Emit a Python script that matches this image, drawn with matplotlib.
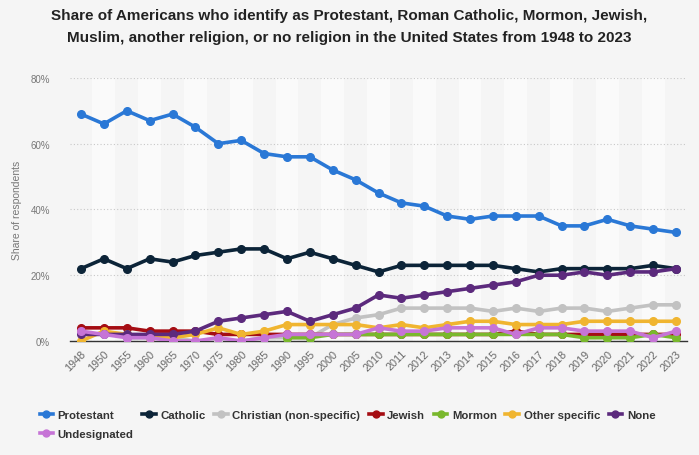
import numpy as np
import matplotlib
matplotlib.use("Agg")
import matplotlib.pyplot as plt
from matplotlib.lines import Line2D

plt.rcParams['font.family'] = ['Liberation Sans', 'DejaVu Sans']

years = ["1948", "1950", "1955", "1960", "1965", "1970", "1975", "1980", "1985", "1990",
         "1995", "2000", "2005", "2010", "2011", "2012", "2013", "2014", "2015", "2016",
         "2017", "2018", "2019", "2020", "2021", "2022", "2023"]

nan = np.nan
protestant = [69, 66, 70, 67, 69, 65, 60, 61, 57, 56, 56, 52, 49, 45, 42, 41, 38, 37, 38, 38, 38, 35, 35, 37, 35, 34, 33]
catholic = [22, 25, 22, 25, 24, 26, 27, 28, 28, 25, 27, 25, 23, 21, 23, 23, 23, 23, 23, 22, 21, 22, 22, 22, 22, 23, 22]
christian = [nan, nan, 1, 1, 1, 0, 0, 0, 1, 1, 1, 5, 7, 8, 10, 10, 10, 10, 9, 10, 9, 10, 10, 9, 10, 11, 11]
jewish = [4, 4, 4, 3, 3, 3, 2, 2, 2, 2, 2, 2, 2, 2, 2, 2, 2, 2, 2, 3, 2, 2, 2, 2, 2, 2, 2]
mormon = [nan, nan, nan, nan, nan, nan, nan, nan, nan, 1, 1, 2, 2, 2, 2, 2, 2, 2, 2, 2, 2, 2, 1, 1, 1, 2, 1]
other = [0, 3, 2, 1, 1, 2, 4, 2, 3, 5, 5, 5, 5, 4, 5, 4, 5, 6, 6, 5, 5, 5, 6, 6, 6, 6, 6]
none = [2, 2, 2, 2, 2, 3, 6, 7, 8, 9, 6, 8, 10, 14, 13, 14, 15, 16, 17, 18, 20, 20, 21, 20, 21, 21, 22]
undesignated = [3, 2, 1, 1, 0, 0, 1, 0, 1, 2, 2, 2, 2, 4, 3, 3, 4, 4, 4, 2, 4, 4, 3, 3, 3, 1, 3]

series = [
    ("Protestant", protestant, "#2a78d6"),
    ("Catholic", catholic, "#0c2438"),
    ("Christian (non-specific)", christian, "#c2c2c2"),
    ("Jewish", jewish, "#a50d13"),
    ("Mormon", mormon, "#79b82c"),
    ("Other specific", other, "#f0b530"),
    ("None", none, "#5c2a7d"),
    ("Undesignated", undesignated, "#c674d6"),
]

fig = plt.figure(figsize=(6.99, 4.56), dpi=100)
fig.patch.set_facecolor("#f5f5f5")
ax = fig.add_axes([0.0995, 0.25, 0.884, 0.577])
ax.set_facecolor("#f5f5f5")

x = np.arange(len(years))
for i in x:
    if i % 2 == 1:
        ax.axvspan(i - 0.5, i + 0.5, color="#fafafa", zorder=0, lw=0)

for name, vals, col in series:
    ax.plot(x, vals, color=col, lw=2.6, marker='o', ms=5.5, zorder=3,
            solid_joinstyle='round', label=name)

ax.set_xlim(-0.5, len(years) - 0.5)
ax.set_ylim(0, 80)
ax.set_yticks([0, 20, 40, 60, 80])
ax.set_yticklabels(["0%", "20%", "40%", "60%", "80%"])
ax.yaxis.grid(True, color="#c8c8c8", ls=(0, (1, 2)), lw=0.8)
ax.set_axisbelow(True)
for s in ["top", "right", "left"]:
    ax.spines[s].set_visible(False)
ax.spines["bottom"].set_color("#333333")
ax.spines["bottom"].set_linewidth(1.0)
ax.spines["bottom"].set_zorder(2)
ax.tick_params(axis='y', length=0, labelsize=7, colors="#777777", pad=14)
ax.tick_params(axis='x', length=0, labelsize=7.8, colors="#666666", pad=5)
ax.set_xticks(x)
ax.set_xticklabels(years, rotation=45, ha='right', rotation_mode='anchor')
ax.set_ylabel("Share of respondents", fontsize=7.5, color="#777777", labelpad=6)

fig.suptitle("Share of Americans who identify as Protestant, Roman Catholic, Mormon, Jewish,\n"
             "Muslim, another religion, or no religion in the United States from 1948 to 2023",
             fontsize=11, fontweight='bold', color="#222222", y=0.98, linespacing=1.75)

order = [0, 7, 1, 2, 3, 4, 5, 6]
handles = [Line2D([0], [0], color=series[k][2], lw=2.6, marker='o', ms=5) for k in order]
labels = [series[k][0] for k in order]
leg = fig.legend(handles, labels, loc='upper left', bbox_to_anchor=(0.05, 0.108),
                 ncol=7, frameon=False, fontsize=8.2, handlelength=1.2, handletextpad=0.4,
                 columnspacing=0.75, labelspacing=0.75, borderaxespad=0)
for t in leg.get_texts():
    t.set_color("#333333")
    t.set_fontweight('bold')

fig.savefig("out.png", dpi=100, facecolor=fig.get_facecolor())
